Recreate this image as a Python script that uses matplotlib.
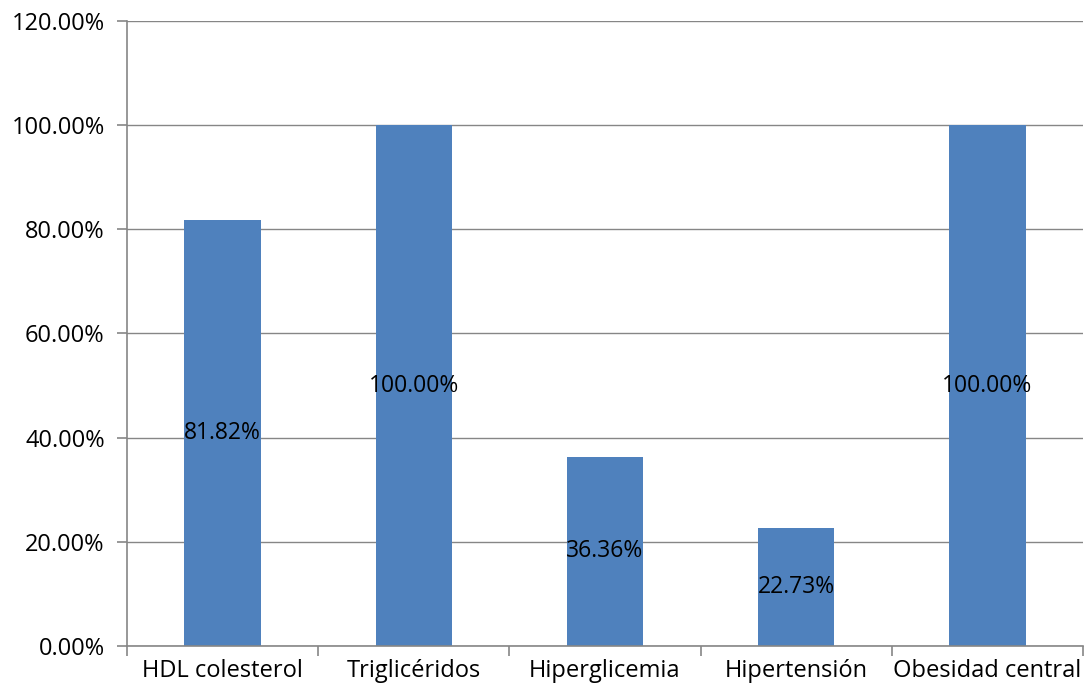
import numpy as np
from matplotlib import pyplot as plt
from matplotlib.ticker import FixedLocator, NullFormatter

plt.rcParams['font.family'] = ['Open Sans', 'DejaVu Sans']
plt.rcParams['font.size'] = 17

categories = ['HDL colesterol', 'Triglicéridos', 'Hiperglicemia', 'Hipertensión', 'Obesidad central']
values = [81.82, 100.00, 36.36, 22.73, 100.00]
yticks = [0, 20, 40, 60, 80, 100, 120]

fig = plt.figure(figsize=(10.85, 6.93), dpi=100)
ax = fig.add_axes([0.117, 0.0678, 0.8811, 0.902])

x = np.arange(len(categories))
ax.bar(x, values, width=0.4, color='#4F81BD', zorder=2)
for xi, v in zip(x, values):
    ax.text(xi, v / 2, f'{v:.2f}%', ha='center', va='center', fontsize=16.5, zorder=3)

ax.set_xlim(-0.5, len(categories) - 0.5)
ax.set_ylim(0, 120)
ax.set_yticks(yticks)
ax.set_yticklabels([f'{t:.2f}%' for t in yticks])
ax.yaxis.grid(True, color='#868686', lw=1, zorder=0)

ax.set_xticks(x)
ax.set_xticklabels(categories)
ax.tick_params(axis='x', length=0, pad=9)
ax.xaxis.set_minor_locator(FixedLocator(np.arange(-0.5, len(categories), 1.0)))
ax.xaxis.set_minor_formatter(NullFormatter())
ax.tick_params(axis='x', which='minor', length=7, width=1.2, color='#868686')
ax.tick_params(axis='y', length=7, width=1.2, color='#868686', pad=9)

for s in ['top', 'right']:
    ax.spines[s].set_visible(False)
for s in ['left', 'bottom']:
    ax.spines[s].set_color('#868686')
    ax.spines[s].set_linewidth(1.2)

plt.savefig('out.png')
